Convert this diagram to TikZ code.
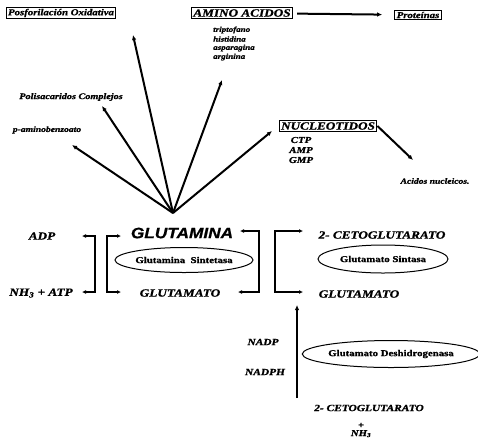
\documentclass[tikz,border=0pt]{standalone}
\usepackage{fontspec}
\setmainfont{Liberation Serif}
\newfontfamily\lab{Liberation Serif}[FakeStretch=1.2, BoldItalicFeatures={FakeBold=1.2}, BoldFeatures={FakeBold=1.2}]
\newfontfamily\gl{Liberation Sans}[FakeStretch=1.15, BoldItalicFeatures={FakeBold=0.8}]
\usetikzlibrary{arrows.meta,shapes.geometric}
\newcommand\fsz[1]{\fontsize{#1}{#1}\selectfont}
\begin{document}
\begin{tikzpicture}[x=1pt,y=-1pt,
  lb/.style={inner sep=0pt, font=\lab\bfseries\itshape\fsz{#1}},
  lb/.default=11,
  enzt/.style={inner sep=0pt, draw, ellipse, line width=1pt, font=\lab\bfseries\fsz{9}},
  bx/.style={draw, line width=1pt, inner xsep=2pt, inner ysep=1.5pt},
  arr/.style={-{Latex[length=5pt,width=4.5pt]}, line width=2pt},
  brk/.style={{Latex[length=4pt,width=4pt]}-{Latex[length=4pt,width=4pt]}, line width=1.5pt}]
\useasboundingbox (0,0) rectangle (478,445);

% top boxes
\node[lb=9,bx] (pos) at (61,13) {Posforilación Oxidativa};
\node[lb=11,bx] (amino) at (242,13) {AMINO ACIDOS};
\node[lb=9,bx] (prot) at (418,15) {Proteínas};
\node[lb=7.5,anchor=west] (trip) at (213,30) {triptofano};
\node[lb=7.5,anchor=west] (hist) at (213,39) {histidina};
\node[lb=7.5,anchor=west] (aspa) at (213,48) {asparagina};
\node[lb=7.5,anchor=west] (argi) at (213,57) {arginina};
\node[lb=8.5] (poli) at (71,97) {Polisacaridos Complejos};
\node[lb=8] (pab) at (47,130) {p-aminobenzoato};
\node[lb=11,bx] (nuc) at (328,126) {NUCLEOTIDOS};
\node[lb=9] (ctp) at (301,140) {CTP};
\node[lb=9] (amp) at (301,150) {AMP};
\node[lb=9] (gmp) at (301,160) {GMP};
\node[lb=8] (acn) at (435,181) {Acidos nucleicos.};

% central part
\node[inner sep=0pt, font=\gl\bfseries\itshape\fsz{15}] (gna) at (182,233) {GLUTAMINA};
\node[lb] (adp) at (42,236) {ADP};
\node[lb] (nhatp) at (41,293) {NH\textsubscript{3} + ATP};
\node[enzt, minimum width=138pt, minimum height=25pt] (gs) at (184,260) {Glutamina\ \ Sintetasa};
\node[lb] (glu1) at (180,293) {GLUTAMATO};
\node[lb] (ceto1) at (382,235) {2- CETOGLUTARATO};
\node[enzt, minimum width=130pt, minimum height=28pt] (gsa) at (383,259) {Glutamato Sintasa};
\node[lb] (glu2) at (359,294) {GLUTAMATO};
\node[lb=9.5] (nadp) at (263,342) {NADP};
\node[lb=9.5] (nadph) at (265,372) {NADPH};
\node[enzt, minimum width=172pt, minimum height=27pt] (gdh) at (391,354) {Glutamato Deshidrogenasa};
\node[lb=9.5] (ceto2) at (369,408) {2- CETOGLUTARATO};
\node[lb=9, align=center] (nh3) at (361,430) {+\\[-1pt]NH\textsubscript{3}};

% fan
\coordinate (hub) at (173,213);
\coordinate (tpab) at (72,145);
\coordinate (tpoli) at (102,106);
\coordinate (tpos) at (133,35);
\coordinate (tamino) at (222,80);
\coordinate (tnuc) at (272,131);
\foreach \t in {tpab,tpoli,tpos,tamino,tnuc} \draw[arr] (hub) -- (\t);

\draw[arr, shorten <=4pt, shorten >=12pt] (amino) -- (prot);
\coordinate (tacn) at (413,160);
\draw[arr] (nuc.east) -- (tacn);

% brackets
\coordinate (l1a) at (82,236); \coordinate (l1b) at (82,292);
\coordinate (l2a) at (121,236); \coordinate (l2b) at (121,292);
\coordinate (r1a) at (240,231); \coordinate (r1b) at (238,292);
\coordinate (r2a) at (303,231); \coordinate (r2b) at (303,292);
\draw[brk] (l1a) -- ++(13,0) |- (l1b);
\draw[brk] (l2a) -- ++(-14,0) |- (l2b);
\draw[brk] (r1a) -- ++(19,0) |- (r1b);
\draw[brk] (r2a) -- ++(-28,0) |- (r2b);

\coordinate (vb) at (297,398); \coordinate (vt) at (297,305);
\draw[arr] (vb) -- (vt);
\end{tikzpicture}
\end{document}
